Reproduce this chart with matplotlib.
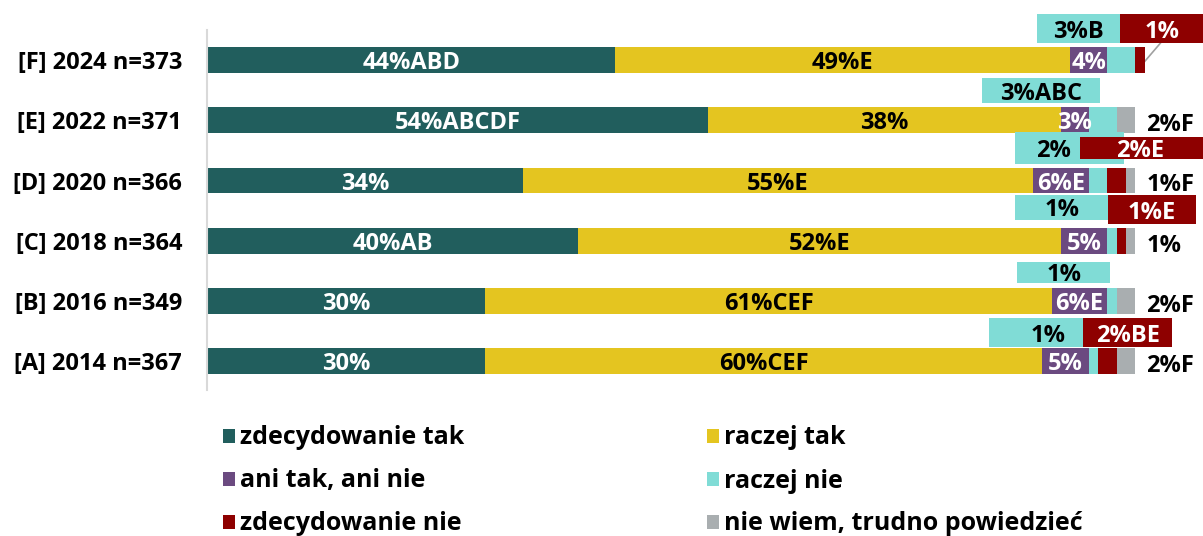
import matplotlib.pyplot as plt
from matplotlib.patches import Rectangle

plt.rcParams['font.family'] = ['Open Sans', 'DejaVu Sans']
plt.rcParams['font.weight'] = 'bold'

# -----------------------------
# data (rows bottom -> top)
# -----------------------------
rows = ["[A] 2014 n=367", "[B] 2016 n=349", "[C] 2018 n=364",
        "[D] 2020 n=366", "[E] 2022 n=371", "[F] 2024 n=373"]

series = ["zdecydowanie tak", "raczej tak", "ani tak, ani nie",
          "raczej nie", "zdecydowanie nie", "nie wiem, trudno powiedzieć"]
colors = ["#215e5d", "#e4c520", "#6b4a80", "#80dcd6", "#8e0000", "#a9aeb0"]

zdecydowanie_tak = [30, 30, 40, 34, 54, 44]
raczej_tak = [60, 61, 52, 55, 38, 49]
ani_tak_ani_nie = [5, 6, 5, 6, 3, 4]
raczej_nie = [1, 1, 1, 2, 3, 3]
zdecydowanie_nie = [2, 0, 1, 2, 0, 1]
nie_wiem = [2, 2, 1, 1, 2, 0]

lab_tak = ["30%", "30%", "40%AB", "34%", "54%ABCDF", "44%ABD"]
lab_raczej_tak = ["60%CEF", "61%CEF", "52%E", "55%E", "38%", "49%E"]
lab_ani = ["5%", "6%E", "5%", "6%E", "3%", "4%"]
lab_nie_wiem = ["2%F", "2%F", "1%", "1%F", "2%F", ""]

# callouts for the thin segments: (row, series idx, text, x0, x1, y0, y1, text x)
callouts = [
    (5, 3, "3%B", 89.4, 98.4, 0.28, 0.76, None),
    (5, 4, "1%", 98.4, 107.3, 0.28, 0.76, None),
    (4, 3, "3%ABC", 83.5, 96.2, 0.28, 0.71, None),
    (3, 3, "2%", 87.0, 98.8, 0.27, 0.80, 91.2),
    (3, 4, "2%E", 94.0, 107.3, 0.35, 0.73, 100.5),
    (2, 3, "1%", 87.1, 97.1, 0.35, 0.76, None),
    (2, 4, "1%E", 97.1, 106.5, 0.27, 0.76, None),
    (1, 3, "1%", 87.3, 97.3, 0.30, 0.65, None),
    (0, 3, "1%", 84.2, 94.4, 0.23, 0.71, 90.6),
    (0, 4, "2%BE", 94.4, 104.0, 0.23, 0.71, None),
]

values = [zdecydowanie_tak, raczej_tak, ani_tak_ani_nie,
          raczej_nie, zdecydowanie_nie, nie_wiem]

fig = plt.figure(figsize=(12.03, 5.36), dpi=100)
W, H = 1203, 536
ax = fig.add_axes([207 / W, 1 - 390 / H, (W - 207) / W, 360 / H])

y = list(range(len(rows)))
bh = 0.43
left = [0] * len(rows)
bars = []
for vals, name, c in zip(values, series, colors):
    b = ax.barh(y, vals, left=left, height=bh, color=c, label=name, zorder=2)
    bars.append(b)
    left = [l + v for l, v in zip(left, vals)]

fs = 17
for i in range(len(rows)):
    x0 = 0
    ax.text(x0 + zdecydowanie_tak[i] / 2, i, lab_tak[i], ha='center',
            va='center_baseline', color='white', fontsize=fs, zorder=4)
    x0 += zdecydowanie_tak[i]
    ax.text(x0 + raczej_tak[i] / 2, i, lab_raczej_tak[i], ha='center',
            va='center_baseline', color='black', fontsize=fs, zorder=4)
    x0 += raczej_tak[i]
    ax.text(x0 + ani_tak_ani_nie[i] / 2, i, lab_ani[i], ha='center',
            va='center_baseline', color='white', fontsize=fs, zorder=4)
    if lab_nie_wiem[i]:
        ax.text(left[i] + 1.2, i - 0.03, lab_nie_wiem[i], ha='left',
                va='center_baseline', color='black', fontsize=fs, zorder=4,
                clip_on=False)

for row, s, txt, x0, x1, y0, y1, tx in callouts:
    z = 5 if s == 4 else 3
    ax.add_patch(Rectangle((x0, row + y0), x1 - x0, y1 - y0, color=colors[s],
                           zorder=z, linewidth=0, clip_on=False))
    tcol = 'white' if s == 4 else 'black'
    ax.text(tx if tx is not None else (x0 + x1) / 2, row + (y0 + y1) / 2, txt,
            ha='center', va='center_baseline', color=tcol, fontsize=fs,
            zorder=z + 0.5, clip_on=False)

# leader line for F red segment
ax.plot([102.7, left[5] - 0.3], [5 + 0.28, 4.92], color='#a0a0a0', lw=1.2,
        zorder=1, clip_on=False)

ax.set_xlim(0, 107.3)
ax.set_ylim(-0.48, 5.5)
ax.set_yticks(y, rows, fontsize=fs)
ax.tick_params(axis='y', length=0, pad=18)
ax.set_xticks([])
for sp in ['top', 'right', 'bottom']:
    ax.spines[sp].set_visible(False)
ax.spines['left'].set_color('#d9d9d9')
ax.spines['left'].set_linewidth(1.5)

order = [0, 2, 4, 1, 3, 5]
fig.legend([bars[k] for k in order], [series[k] for k in order],
           loc='upper left', bbox_to_anchor=(210 / W, 1 - 413 / H), ncol=2,
           frameon=False, fontsize=18, handlelength=0.5, handleheight=0.5,
           handletextpad=0.2, labelspacing=0.72, columnspacing=9.7, borderpad=0)

fig.savefig("out.png", dpi=100)
